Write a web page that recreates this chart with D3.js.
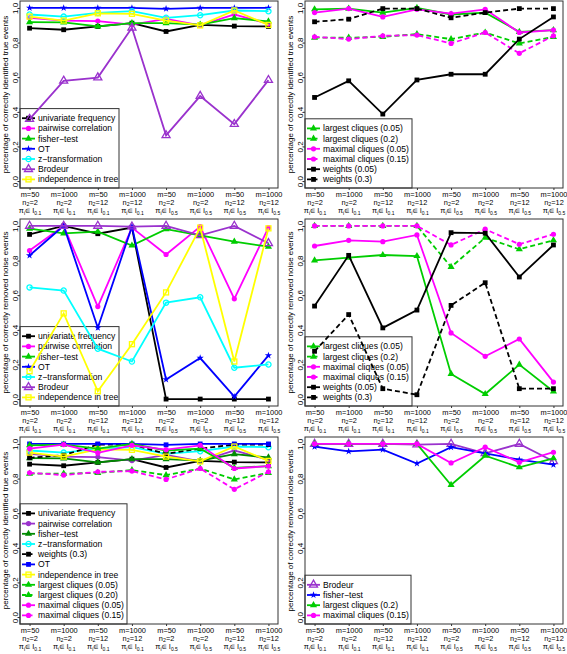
<!DOCTYPE html>
<html><head><meta charset="utf-8">
<script src="https://cdn.jsdelivr.net/npm/d3@7"></script>
<style>body{margin:0;background:#fff} text{font-family:"Liberation Sans",Arial,Helvetica,sans-serif}</style>
</head><body><svg id="c" width="567" height="654"></svg>
<script>
// ---- tick labels ----
const mLabels = ["m=50","m=1000","m=50","m=1000","m=50","m=1000","m=50","m=1000"];
const nLabels = ["2","2","12","12","2","2","12","12"];
const piLabels = ["0.1","0.1","0.1","0.1","0.5","0.5","0.5","0.5"];
const yTicks = [0, 0.2, 0.4, 0.6, 0.8, 1.0];

// ---- percentage of correctly identified true events ----
const univTE   = [0.883, 0.874, 0.893, 0.912, 0.864, 0.902, 0.895, 0.893];
const pairTE   = [0.943, 0.927, 0.924, 0.904, 0.937, 0.899, 0.962, 0.908];
const fisherTE = [0.918, 0.916, 0.893, 0.912, 0.912, 0.904, 0.941, 0.922];
const otTE     = [1.0, 1.0, 1.0, 1.0, 0.995, 1.0, 1.0, 1.0];
const zTE      = [0.962, 0.950, 0.971, 0.981, 0.943, 0.958, 0.985, 0.981];
const brodeurTE= [0.358, 0.579, 0.598, 0.885, 0.264, 0.491, 0.329, 0.583];
const indepTE  = [0.950, 0.927, 0.969, 0.966, 0.927, 0.899, 0.985, 0.902];
const lc05TE   = [0.992, 0.996, 0.973, 1.0, 0.962, 0.973, 0.862, 0.872];
const lc20TE   = [0.828, 0.828, 0.833, 0.849, 0.820, 0.858, 0.795, 0.833];
const mc05TE   = [0.973, 0.996, 0.948, 0.992, 0.967, 0.992, 0.858, 0.872];
const mc15TE   = [0.833, 0.820, 0.839, 0.843, 0.795, 0.858, 0.738, 0.839];
const w05TE    = [0.483, 0.579, 0.387, 0.584, 0.617, 0.617, 0.820, 0.948];
const w30TE    = [0.920, 0.935, 0.996, 0.996, 0.943, 0.973, 0.996, 0.996];

// ---- percentage of correctly removed noise events ----
const univRN   = [0.951, 1.0, 0.955, 0.990, 0.0, 0.0, 0.0, 0.0];
const pairRN   = [0.858, 1.0, 0.534, 0.990, 0.835, 0.996, 0.579, 0.990];
const fisherRN = [0.984, 0.957, 0.967, 0.887, 0.981, 0.946, 0.909, 0.880];
const otRN     = [0.829, 1.0, 0.412, 0.996, 0.113, 0.237, 0.014, 0.252];
const zRN      = [0.645, 0.627, 0.291, 0.217, 0.557, 0.588, 0.181, 0.200];
const brodeurRN= [1.0, 1.0, 1.0, 0.996, 1.0, 0.946, 1.0, 0.900];
const indepRN  = [0.161, 0.495, 0.045, 0.317, 0.616, 0.990, 0.217, 0.986];
const lc05RN   = [0.801, 0.817, 0.832, 0.826, 0.145, 0.029, 0.199, 0.044];
const lc20RN   = [1.0, 1.0, 1.0, 1.0, 0.763, 0.932, 0.865, 0.917];
const mc05RN   = [0.884, 0.917, 0.909, 0.948, 0.382, 0.247, 0.347, 0.098];
const mc15RN   = [1.0, 1.0, 1.0, 1.0, 0.890, 0.981, 0.894, 0.952];
const w05RN    = [0.537, 0.830, 0.411, 0.514, 0.961, 0.958, 0.705, 0.890];
const w30RN    = [0.276, 0.488, 0.060, 0.025, 0.541, 0.672, 0.060, 0.060];

// ---- styles ----
const C = {black:"#000000", mag:"#FF00FF", green:"#00CD00", dgreen:"#008B00", blue:"#0000FF",
           cyan:"#00FFFF", purple:"#9A32CD", yellow:"#FFFF00"};
const S = (name, data, color, marker, dash) => ({name, data, color, marker, dash: !!dash});

const titleTE = "percentage of correctly identified true events";
const titleRN = "percentage of correctly removed noise events";

const panels = [
  {col:0,row:0,title:titleTE,legW:99,series:[
    S("univariate frequency",univTE,C.black,"sq"),
    S("pairwise correlation",pairTE,C.mag,"ci"),
    S("fisher\u2212test",fisherTE,C.green,"tr"),
    S("OT",otTE,C.blue,"st"),
    S("z\u2212transformation",zTE,C.cyan,"oci"),
    S("Brodeur",brodeurTE,C.purple,"otr"),
    S("independence in tree",indepTE,C.yellow,"osq")]},
  {col:1,row:0,title:titleTE,legW:107,series:[
    S("largest cliques (0.05)",lc05TE,C.green,"tr"),
    S("largest cliques (0.2)",lc20TE,C.green,"tr",1),
    S("maximal cliques (0.05)",mc05TE,C.mag,"ci"),
    S("maximal cliques (0.15)",mc15TE,C.mag,"ci",1),
    S("weights (0.05)",w05TE,C.black,"sq"),
    S("weights (0.3)",w30TE,C.black,"sq",1)]},
  {col:0,row:1,title:titleRN,legW:99,series:[
    S("univariate frequency",univRN,C.black,"sq"),
    S("pairwise correlation",pairRN,C.mag,"ci"),
    S("fisher\u2212test",fisherRN,C.green,"tr"),
    S("OT",otRN,C.blue,"st"),
    S("z\u2212transformation",zRN,C.cyan,"oci"),
    S("Brodeur",brodeurRN,C.purple,"otr"),
    S("independence in tree",indepRN,C.yellow,"osq")]},
  {col:1,row:1,title:titleRN,legW:107,series:[
    S("largest cliques (0.05)",lc05RN,C.green,"tr"),
    S("largest cliques (0.2)",lc20RN,C.green,"tr",1),
    S("maximal cliques (0.05)",mc05RN,C.mag,"ci"),
    S("maximal cliques (0.15)",mc15RN,C.mag,"ci",1),
    S("weights (0.05)",w05RN,C.black,"sq"),
    S("weights (0.3)",w30RN,C.black,"sq",1)]},
  {col:0,row:2,title:titleTE,legW:107,series:[
    S("univariate frequency",univTE,C.black,"sq"),
    S("pairwise correlation",pairTE,C.purple,"ci"),
    S("fisher\u2212test",fisherTE,C.dgreen,"tr"),
    S("z\u2212transformation",zTE,C.cyan,"oci"),
    S("weights (0.3)",w30TE,C.black,"sq",1),
    S("OT",otTE,C.blue,"sq"),
    S("independence in tree",indepTE,C.yellow,"osq"),
    S("largest cliques (0.05)",lc05TE,C.green,"tr"),
    S("largest cliques (0.20)",lc20TE,C.green,"tr",1),
    S("maximal cliques (0.05)",mc05TE,C.mag,"ci"),
    S("maximal cliques (0.15)",mc15TE,C.mag,"ci",1)]},
  {col:1,row:2,title:titleRN,legW:106,series:[
    S("Brodeur",brodeurRN,C.purple,"otr"),
    S("fisher\u2212test",fisherRN,C.blue,"st"),
    S("largest cliques (0.2)",lc20RN,C.green,"tr"),
    S("maximal cliques (0.15)",mc15RN,C.mag,"ci")]}
];

const svg = d3.select("#c");
const colL = [20, 305], rowT = [1, 219, 437], W = 258, H = 187;

function marker(g, type, color, cx, cy) {
  const s = g.append("g").attr("transform", `translate(${cx},${cy})`);
  if (type === "sq") s.append("rect").attr("x",-2.4).attr("y",-2.4).attr("width",4.8).attr("height",4.8).attr("fill",color);
  else if (type === "ci") s.append("circle").attr("r",2.6).attr("fill",color);
  else if (type === "tr") s.append("path").attr("d", d3.symbol(d3.symbolTriangle, 22)()).attr("fill",color);
  else if (type === "st") s.append("path").attr("d", d3.symbol(d3.symbolStar, 16)()).attr("fill",color);
  else if (type === "oci") s.append("circle").attr("r",2.6).attr("fill","none").attr("stroke",color).attr("stroke-width",1.3);
  else if (type === "otr") s.append("path").attr("d", d3.symbol(d3.symbolTriangle, 28)()).attr("fill","none").attr("stroke",color).attr("stroke-width",1.3);
  else if (type === "osq") s.append("rect").attr("x",-2.5).attr("y",-2.5).attr("width",5).attr("height",5).attr("fill","none").attr("stroke",color).attr("stroke-width",1.3);
}

panels.forEach(p => {
  const L = colL[p.col], T = rowT[p.row];
  const x = d3.scaleLinear().domain([0.72, 8.28]).range([L, L + W]);
  const y = d3.scaleLinear().domain([-0.04, 1.04]).range([T + H, T]);
  const g = svg.append("g");

  // y axis
  const ya = g.append("g").attr("transform", `translate(${L},0)`)
    .call(d3.axisLeft(y).tickValues(yTicks).tickSize(2).tickPadding(2).tickFormat(d3.format(".1f")));
  ya.select(".domain").remove();
  ya.selectAll("line").attr("stroke","#333");
  ya.selectAll(".tick text").attr("font-size",8).attr("fill","#000")
    .attr("text-anchor","middle").attr("x",0).attr("y",0).attr("dy","0.35em")
    .attr("transform", `translate(-5,0) rotate(-90)`);

  // x axis
  const xa = g.append("g").attr("transform", `translate(0,${T + H})`)
    .call(d3.axisBottom(x).tickValues(d3.range(1, 9)).tickSize(2).tickFormat(""));
  xa.select(".domain").remove();
  xa.selectAll("line").attr("stroke","#333");
  xa.selectAll(".tick text").remove();
  xa.selectAll(".tick").each(function(d, i) {
    const t = d3.select(this);
    const mk = yy => t.append("text").attr("y", yy).attr("dy","0.35em").attr("text-anchor","middle")
      .attr("font-size",7.4).attr("fill","#000");
    mk(6).text(mLabels[i]);
    const n = mk(14);
    n.append("tspan").text("n");
    n.append("tspan").attr("font-size",5.3).attr("dy","1.5").text("2");
    n.append("tspan").attr("dy","-1.5").text("=" + nLabels[i]);
    const pi = mk(22.5);
    pi.append("tspan").text("\u03C0");
    pi.append("tspan").attr("font-size",5).attr("dy","1.5").text("i");
    pi.append("tspan").attr("dy","-1.5").attr("font-size",6).attr("font-family","DejaVu Sans").text("\u2208");
    pi.append("tspan").text(" I");
    pi.append("tspan").attr("font-size",5).attr("dy","1.5").text(piLabels[i]);
  });

  // axis title
  g.append("text").attr("transform", `translate(${L - 15},${T + H / 2}) rotate(-90)`)
    .attr("text-anchor","middle").attr("dy","0.35em").attr("font-size",8).attr("fill","#000").text(p.title);

  // legend (bottom-left)
  const n = p.series.length, step = 10.2;
  const lh = n * step + 8;
  const lg = g.append("g");
  lg.append("rect").attr("x", L).attr("y", T + H - lh).attr("width", p.legW).attr("height", lh)
    .attr("fill","#fff").attr("stroke","#333").attr("stroke-width",1);
  p.series.forEach((s, i) => {
    const cy = T + H - lh + 4.5 + step * (i + 0.5);
    lg.append("line").attr("x1", L + 2).attr("x2", L + 15).attr("y1", cy).attr("y2", cy)
      .attr("stroke", s.color).attr("stroke-width",1.8).attr("stroke-dasharray", s.dash ? "4,2.5" : null);
    marker(lg, s.marker, s.color, L + 8.5, cy);
    lg.append("text").attr("x", L + 18).attr("y", cy).attr("dy","0.35em").attr("font-size",8.6).attr("fill","#000").text(s.name);
  });

  // series
  const line = d3.line().x((d, i) => x(i + 1)).y(d => y(d));
  p.series.forEach(s => {
    g.append("path").datum(s.data).attr("d", line).attr("fill","none")
      .attr("stroke", s.color).attr("stroke-width",1.8)
      .attr("stroke-dasharray", s.dash ? "5,3" : null);
    s.data.forEach((v, i) => marker(g, s.marker, s.color, x(i + 1), y(v)));
  });

  // box
  g.append("rect").attr("x", L).attr("y", T).attr("width", W).attr("height", H)
    .attr("fill","none").attr("stroke","#333").attr("stroke-width",1);
});
</script></body></html>
